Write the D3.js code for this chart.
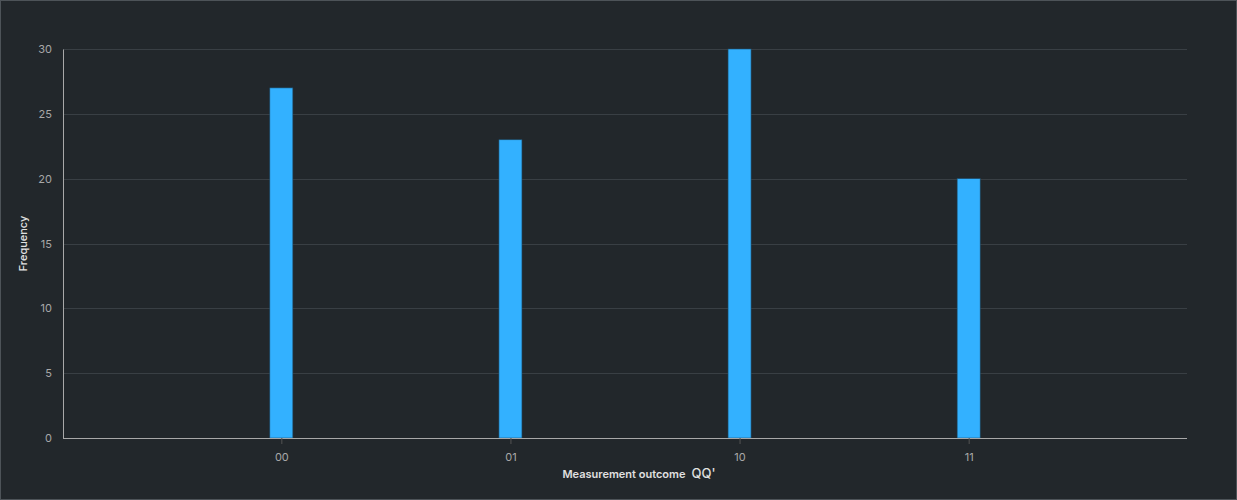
<!DOCTYPE html>
<html>
<head>
<meta charset="utf-8">
<script src="https://cdn.jsdelivr.net/npm/d3@7"></script>
<style>
  html, body { margin: 0; padding: 0; background: #22272b; }
  #chart { width: 1237px; height: 500px; }
  text { font-family: Inter, "Open Sans", sans-serif; }
</style>
</head>
<body>
<div id="chart"></div>
<script>
// data
const outcomes = ['00', '01', '10', '11'];
const counts   = [27, 23, 30, 20];
const yTicks   = [0, 5, 10, 15, 20, 25, 30];

const W = 1237, H = 500;
const margin = { top: 49, right: 50, bottom: 62, left: 63 };
const innerW = W - margin.left - margin.right;
const innerH = H - margin.top - margin.bottom;

const svg = d3.select('#chart').append('svg').attr('width', W).attr('height', H);

// outer frame
svg.append('rect')
  .attr('x', 0.5).attr('y', 0.5).attr('width', W - 1).attr('height', H - 1)
  .attr('fill', '#22272b').attr('stroke', '#4d5358').attr('stroke-width', 1);

const g = svg.append('g').attr('transform', `translate(${margin.left},${margin.top})`);

const x = d3.scalePoint().domain(outcomes).range([0, innerW]).padding(0.953);
const y = d3.scaleLinear().domain([0, 30]).range([innerH, 0]);
const barW = 23;

// gridlines
g.append('g')
  .selectAll('line')
  .data(yTicks.filter(t => t > 0))
  .join('line')
  .attr('x1', 0).attr('x2', innerW)
  .attr('y1', d => Math.round(y(d)) + 0.5).attr('y2', d => Math.round(y(d)) + 0.5)
  .attr('stroke', '#393f44');

// bars
g.append('g')
  .selectAll('rect')
  .data(outcomes.map((o, i) => ({ o, v: counts[i] })))
  .join('rect')
  .attr('x', d => x(d.o) - barW / 2)
  .attr('y', d => y(d.v))
  .attr('width', barW)
  .attr('height', d => innerH - y(d.v))
  .attr('fill', '#33b1ff')
  .attr('stroke', '#1f4f6e')
  .attr('stroke-width', 0.6);

// y axis
const yAxis = g.append('g').call(d3.axisLeft(y).tickValues(yTicks).tickSize(0).tickPadding(11));
yAxis.select('.domain').attr('stroke', '#a8a8a8');
yAxis.selectAll('text').attr('fill', '#a8a8a8').style('font-size', '11px');

// x axis
const xAxis = g.append('g').attr('transform', `translate(0,${innerH})`)
  .call(d3.axisBottom(x).tickSize(6).tickPadding(9));
xAxis.select('.domain').attr('stroke', '#a8a8a8').attr('d', `M0,0.5H${innerW}`);
xAxis.selectAll('.tick line').attr('stroke', '#525252');
xAxis.selectAll('text').attr('fill', '#a8a8a8').style('font-size', '11px');

// axis titles
const xt = svg.append('text')
  .attr('x', margin.left + innerW / 2 + 14).attr('y', 478)
  .attr('text-anchor', 'middle').attr('fill', '#e0e0e0')
  .style('font-size', '11px').style('font-weight', 600);
xt.append('tspan').text('Measurement outcome');
xt.append('tspan').attr('dx', 6).style('font-size', '13px').style('font-weight', 500).text("QQ'");
// nudge so the title's centre sits where the reference puts it
xt.attr('x', margin.left + innerW / 2 + 14);

svg.append('text')
  .attr('transform', `translate(27,${margin.top + innerH / 2}) rotate(-90)`)
  .attr('text-anchor', 'middle').attr('fill', '#e0e0e0')
  .style('font-size', '11px').style('font-weight', 500)
  .text('Frequency');
</script>
</body>
</html>
